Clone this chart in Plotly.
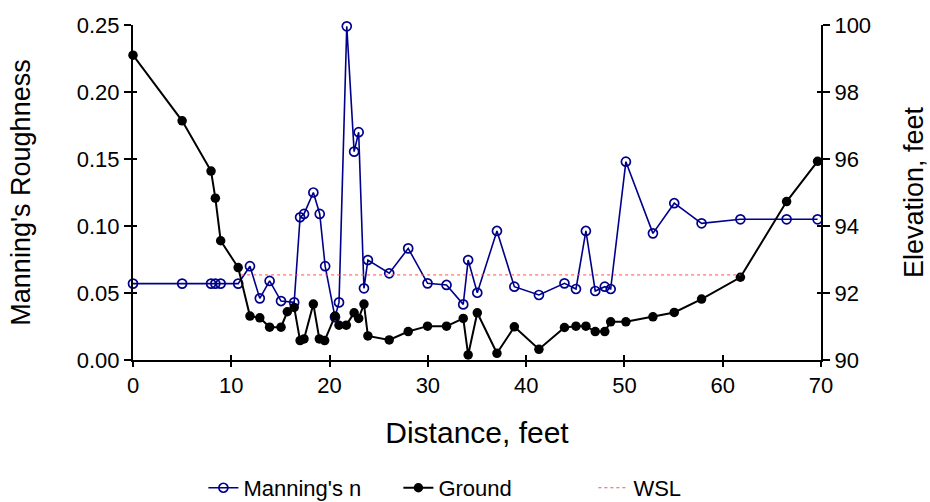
import plotly.graph_objects as go

# ---- data ----
n_station = [0, 5, 7.94, 8.38, 8.92, 10.7, 11.9, 12.9, 13.9, 15.06,
             16.4, 17.0, 17.4, 18.35, 19.0, 19.55, 20.55, 20.96, 21.75, 22.5,
             22.96, 23.5, 23.9, 26.07, 28.0, 29.97, 31.9, 33.6, 34.1, 35.03,
             37.03, 38.8, 41.3, 43.9, 45.07, 46.08, 47.03, 48.0, 48.6, 50.15,
             52.9, 55.07, 57.85, 61.8, 66.5, 69.65]
mannings_n = [0.057, 0.057, 0.057, 0.057, 0.057, 0.057, 0.070, 0.046, 0.059, 0.044,
              0.043, 0.1065, 0.109, 0.125, 0.109, 0.070, 0.032, 0.043, 0.249, 0.1555,
              0.170, 0.0535, 0.0746, 0.0647, 0.0833, 0.0572, 0.056, 0.0415, 0.0746, 0.0502,
              0.0963, 0.0547, 0.0485, 0.0572, 0.053, 0.0963, 0.0515, 0.0547, 0.053, 0.148,
              0.0945, 0.117, 0.102, 0.105, 0.105, 0.105]

ground_station = [0, 5, 7.94, 8.38, 8.92, 10.7, 11.9, 12.9, 13.9, 15.06,
                  15.7, 16.4, 17.0, 17.4, 18.35, 18.96, 19.5, 20.55, 20.96, 21.7,
                  22.5, 22.96, 23.5, 23.9, 26.07, 28.0, 29.97, 31.9, 33.6, 34.1,
                  35.03, 37.03, 38.8, 41.3, 43.9, 45.07, 46.08, 47.03, 48.0, 48.6,
                  50.15, 52.9, 55.07, 57.85, 61.8, 66.5, 69.65]
ground_elev = [99.10, 97.14, 95.64, 94.83, 93.56, 92.76, 91.31, 91.26, 90.98, 90.98,
               91.44, 91.57, 90.58, 90.63, 91.67, 90.63, 90.58, 91.31, 91.04, 91.04,
               91.41, 91.24, 91.67, 90.72, 90.60, 90.85, 91.01, 91.01, 91.24, 90.15,
               91.41, 90.20, 90.99, 90.32, 90.97, 91.01, 91.01, 90.85, 90.85, 91.14,
               91.14, 91.29, 91.42, 91.82, 92.47, 94.73, 95.93]

wsl_station = [11.0, 61.8]
wsl_elev = [92.54, 92.54]

x_ticks = [0, 10, 20, 30, 40, 50, 60, 70]
n_ticks = [0.00, 0.05, 0.10, 0.15, 0.20, 0.25]
n_tick_text = ["0.00", "0.05", "0.10", "0.15", "0.20", "0.25"]
elev_ticks = [90, 92, 94, 96, 98, 100]

FONT = "Arial, Liberation Sans, sans-serif"
NAVY = "#00008B"

fig = go.Figure()
fig.add_trace(go.Scatter(
    x=n_station, y=mannings_n, name="Manning's n", mode="lines+markers",
    line=dict(color=NAVY, width=1.6),
    marker=dict(symbol="circle-open", size=9, color=NAVY, line=dict(width=1.7)),
    xaxis="x", yaxis="y", cliponaxis=False))
fig.add_trace(go.Scatter(
    x=ground_station, y=ground_elev, name="Ground", mode="lines+markers",
    line=dict(color="black", width=2),
    marker=dict(symbol="circle", size=9.5, color="black"),
    xaxis="x", yaxis="y2", cliponaxis=False))
fig.add_trace(go.Scatter(
    x=wsl_station, y=wsl_elev, name="WSL", mode="lines",
    line=dict(color="#ff5050", width=1, dash="dot"),
    xaxis="x", yaxis="y2"))
# invisible helpers so that inner tick overlays render
fig.add_trace(go.Scatter(x=[None], y=[None], xaxis="x2", yaxis="y3",
                         showlegend=False, hoverinfo="skip"))
fig.add_trace(go.Scatter(x=[None], y=[None], xaxis="x2", yaxis="y4",
                         showlegend=False, hoverinfo="skip"))

tickfont = dict(family=FONT, size=22, color="black")
common_ticks = dict(tickcolor="black", tickwidth=1.5, showgrid=False, zeroline=False,
                    automargin=False)

fig.update_layout(
    width=930, height=502,
    margin=dict(l=133, r=109, t=25, b=142),
    paper_bgcolor="white", plot_bgcolor="white",
    font=dict(family=FONT, color="black"),
    showlegend=True,
    legend=dict(orientation="h", x=0.2187, xanchor="left",
                xref="container", yref="container", y=0.028, yanchor="middle",
                font=dict(family=FONT, size=22, color="black"),
                entrywidth=150, entrywidthmode="pixels", bgcolor="rgba(0,0,0,0)"),
    xaxis=dict(range=[0, 70], tickvals=x_ticks, ticks="outside", ticklen=5,
               tickfont=tickfont, showline=True, linecolor="black", linewidth=2,
               title=dict(text="Distance, feet", font=dict(family=FONT, size=30),
                          standoff=25),
               **common_ticks),
    xaxis2=dict(range=[0, 70], tickvals=x_ticks, ticks="inside", ticklen=5,
                showticklabels=False, showline=False, overlaying="x", anchor="y",
                **common_ticks),
    yaxis=dict(range=[0, 0.25], tickvals=n_ticks, ticktext=n_tick_text,
               ticks="outside", ticklen=7, tickfont=tickfont,
               showline=True, linecolor="black", linewidth=2,
               title=dict(text="Manning's Roughness", font=dict(family=FONT, size=27),
                          standoff=38),
               **common_ticks),
    yaxis2=dict(range=[90, 100], tickvals=elev_ticks, ticks="outside", ticklen=7,
                tickfont=tickfont, side="right", overlaying="y", anchor="x",
                showline=True, linecolor="black", linewidth=2,
                title=dict(text="Elevation, feet", font=dict(family=FONT, size=27),
                           standoff=34),
                **common_ticks),
    yaxis3=dict(range=[0, 0.25], tickvals=n_ticks, ticks="inside", ticklen=4,
                showticklabels=False, showline=False, overlaying="y", side="left",
                anchor="x2", **common_ticks),
    yaxis4=dict(range=[90, 100], tickvals=elev_ticks, ticks="inside", ticklen=4,
                showticklabels=False, showline=False, overlaying="y", side="right",
                anchor="x2", **common_ticks),
)

fig.write_html("out.html", config={"displayModeBar": False},
               post_script="document.body.style.margin='0';document.body.style.padding='0';")
